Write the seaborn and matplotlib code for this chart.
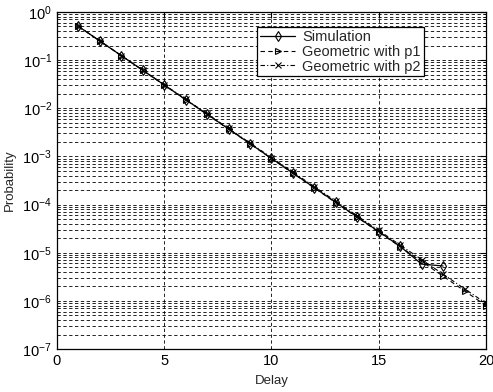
import numpy as np
import matplotlib as mpl
mpl.use('Agg')

import matplotlib.pyplot as plt
import pandas as pd
import seaborn as sns

# values
delay_sim = list(range(1, 19))
sim = [0.503, 0.249, 0.124, 0.0615, 0.0305, 0.0151, 0.0075, 0.00372, 0.00184,
       0.00091, 0.00045, 0.000224, 0.000111, 5.5e-5, 2.75e-5, 1.35e-5, 5.8e-6, 5.3e-6]

delay_geo = list(range(1, 21))
geo_p1 = [0.505, 0.250, 0.1237, 0.0613, 0.0303, 0.0150, 0.00743, 0.00368, 0.00182,
          0.000901, 0.000446, 0.000221, 0.000109, 5.41e-5, 2.68e-5, 1.33e-5,
          6.57e-6, 3.25e-6, 1.61e-6, 7.97e-7]
geo_p2 = [0.502, 0.250, 0.1245, 0.0620, 0.0309, 0.01538, 0.00766, 0.00381, 0.00190,
          0.000946, 0.000471, 0.000235, 0.000117, 5.82e-5, 2.90e-5, 1.44e-5,
          7.19e-6, 3.58e-6, 1.78e-6, 8.89e-7]

labels = ["Simulation", "Geometric with p1", "Geometric with p2"]
yticks = [1e-7, 1e-6, 1e-5, 1e-4, 1e-3, 1e-2, 1e-1, 1e0]

sns.set_style("white")
plt.rcParams['font.family'] = ['Liberation Sans', 'DejaVu Sans']

df_sim = pd.DataFrame({"Delay": delay_sim, "Probability": sim})
df_p1 = pd.DataFrame({"Delay": delay_geo, "Probability": geo_p1})
df_p2 = pd.DataFrame({"Delay": delay_geo, "Probability": geo_p2})

fig = plt.figure(figsize=(4.93, 3.92), dpi=100)
ax = fig.add_axes([0.1156, 0.1097, 0.8702, 0.8597])

sns.lineplot(data=df_sim, x="Delay", y="Probability", ax=ax, color='k', lw=0.9,
             marker='d', markersize=5, markerfacecolor='none', markeredgecolor='k',
             markeredgewidth=0.8, label=labels[0])
sns.lineplot(data=df_p1, x="Delay", y="Probability", ax=ax, color='k', lw=0.8,
             linestyle=(0, (4, 3)), marker='>', markersize=5, markerfacecolor='none',
             markeredgecolor='k', markeredgewidth=0.8, label=labels[1])
sns.lineplot(data=df_p2, x="Delay", y="Probability", ax=ax, color='k', lw=0.8,
             linestyle=(0, (4, 2, 1, 2)), marker='x', markersize=4,
             markeredgecolor='k', markeredgewidth=0.8, label=labels[2])

ax.set_yscale('log')
ax.set_xlim(0, 20)
ax.set_ylim(1e-7, 1)
ax.set_xticks([0, 5, 10, 15, 20])
ax.yaxis.set_major_locator(mpl.ticker.FixedLocator(yticks))
ax.yaxis.set_minor_locator(mpl.ticker.FixedLocator(
    [m * t for t in yticks[:-1] for m in range(2, 10)]))
ax.yaxis.set_major_formatter(mpl.ticker.LogFormatterSciNotation())
ax.yaxis.set_minor_formatter(mpl.ticker.NullFormatter())

ax.grid(True, which='major', axis='both', color='k', linestyle=(0, (4, 3)), linewidth=0.6)
ax.grid(True, which='minor', axis='y', color='k', linestyle=(0, (4, 3)), linewidth=0.6)

for s in ax.spines.values():
    s.set_color('k')
    s.set_linewidth(0.9)
ax.tick_params(axis='both', which='both', direction='in', labelsize=10.5, colors='k',
               top=True, right=True)
ax.tick_params(which='major', length=4)
ax.tick_params(which='minor', length=2)

ax.set_xlabel("Delay", fontsize=9.5, labelpad=5)
ax.set_ylabel("Probability", fontsize=9.5, labelpad=5)

leg = ax.legend(loc='upper right', bbox_to_anchor=(0.855, 0.955), fontsize=10.5,
                frameon=True, fancybox=False, framealpha=1, edgecolor='k',
                borderpad=0.2, labelspacing=0.05, handlelength=2.4, handletextpad=0.5,
                borderaxespad=0)
leg.get_frame().set_linewidth(0.9)

plt.savefig("out.png", dpi=100)
plt.close()
